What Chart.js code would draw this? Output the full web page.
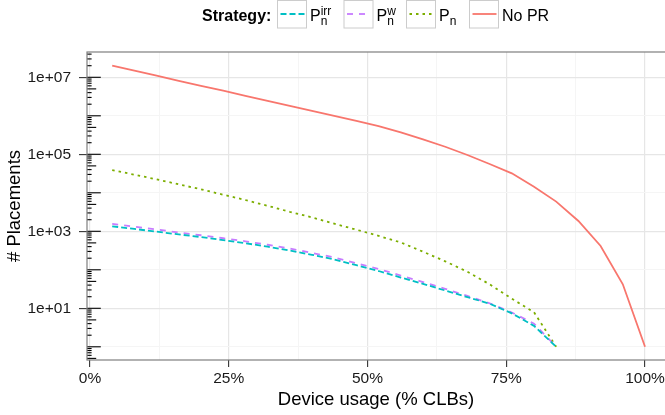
<!DOCTYPE html>
<html>
<head>
<meta charset="utf-8">
<script src="https://cdn.jsdelivr.net/npm/chart.js@4/dist/chart.umd.min.js"></script>
<style>
  html, body { margin: 0; padding: 0; background: #fff; }
</style>
</head>
<body>
<canvas id="chart" width="665" height="415"></canvas>
<script>
// device usage (% CLBs), one point every 4 %
const usage = [4, 8, 12, 16, 20, 24, 28, 32, 36, 40, 44, 48, 52, 56, 60, 64, 68, 72, 76, 80, 84, 88, 92, 96, 100];

// # placements per strategy
const noPR = [2.0e7, 1.48e7, 1.1e7, 8.1e6, 6.0e6, 4.5e6, 3.3e6, 2.45e6, 1.8e6, 1.35e6, 1.0e6, 7.4e5, 5.4e5,
  3.7e5, 2.45e5, 1.57e5, 9.6e4, 5.6e4, 3.2e4, 1.44e4, 5.9e3, 1.85e3, 416, 42, 1];
const pN = [3.9e4, 2.95e4, 2.24e4, 1.66e4, 1.23e4, 8.9e3, 6.5e3, 4.6e3, 3.2e3, 2.3e3, 1.58e3, 1.1e3, 760,
  513, 295, 166, 89, 42, 17.8, 7.9, 1];
const pNirr = [1350, 1150, 980, 830, 710, 590, 490, 400, 316, 245, 186, 132, 93, 63, 43, 29, 19.5, 13.2, 7.4, 3.5, 1];
const pNw = [1550, 1320, 1120, 930, 790, 660, 550, 447, 355, 275, 209, 148, 105, 71, 48, 32, 21, 13.5, 7.8, 4.0, 1];

// axis breaks
const xTickValues = [0, 25, 50, 75, 100];
const xTickLabels = ['0%', '25%', '50%', '75%', '100%'];
const xMinorValues = [12.5, 37.5, 62.5, 87.5];
const yTickValues = [1e1, 1e3, 1e5, 1e7];
const yTickLabels = ['1e+01', '1e+03', '1e+05', '1e+07'];
const yMinorValues = [1e0, 1e2, 1e4, 1e6];

const FONT = '"Liberation Sans", Arial, Helvetica, sans-serif';

function pts(vals) {
  return vals.map((v, i) => ({ x: usage[i], y: v }));
}

const series = [
  { sub: 'n', sup: 'irr', data: pNirr, color: '#00BFC4', dash: [6, 3] },
  { sub: 'n', sup: 'w', data: pNw, color: '#C77CFF', dash: [6, 6] },
  { sub: 'n', sup: '', data: pN, color: '#7CAE00', dash: [2.5, 4] },
  { text: 'No PR', data: noPR, color: '#F8766D', dash: [] }
];

// ggplot-like annotation_logticks on the left side of the panel
const logTicks = {
  id: 'logTicks',
  afterDatasetsDraw(chart) {
    const { ctx, chartArea: a } = chart;
    const y = chart.scales.y;
    ctx.save();
    ctx.beginPath();
    ctx.rect(a.left, a.top, a.right - a.left, a.bottom - a.top);
    ctx.clip();
    ctx.strokeStyle = '#000';
    ctx.lineWidth = 1.1;
    for (let e = -1; e <= 8; e++) {
      for (let m = 1; m <= 9; m++) {
        const py = y.getPixelForValue(m * Math.pow(10, e));
        if (py < a.top || py > a.bottom) continue;
        const len = m === 1 ? 13.8 : (m === 5 ? 9.2 : 4.6);
        ctx.beginPath();
        ctx.moveTo(a.left, py);
        ctx.lineTo(a.left + len, py);
        ctx.stroke();
      }
    }
    ctx.restore();
  }
};

// panel border + legend on top
const frameAndLegend = {
  id: 'frameAndLegend',
  afterDraw(chart) {
    const { ctx, chartArea: a } = chart;
    ctx.save();
    ctx.strokeStyle = '#7f7f7f';
    ctx.lineWidth = 1.2;
    ctx.strokeRect(a.left, a.top, a.right - a.left + 2, a.bottom - a.top);

    ctx.fillStyle = '#000';
    ctx.textBaseline = 'alphabetic';
    ctx.textAlign = 'left';
    ctx.font = 'bold 16px ' + FONT;
    ctx.fillText('Strategy:', 202, 21);

    const boxX = [277.5, 344, 406.5, 469.5];
    series.forEach((s, i) => {
      const bx = boxX[i];
      ctx.strokeStyle = '#cccccc';
      ctx.lineWidth = 1;
      ctx.setLineDash([]);
      ctx.strokeRect(bx, 0.5, 29, 27.5);
      ctx.strokeStyle = s.color;
      ctx.lineWidth = 1.8;
      ctx.setLineDash(s.dash);
      ctx.beginPath();
      ctx.moveTo(bx + 3, 14);
      ctx.lineTo(bx + 27, 14);
      ctx.stroke();
      ctx.setLineDash([]);

      const tx = bx + 32.5;
      ctx.font = '16px ' + FONT;
      if (s.text) {
        ctx.fillText(s.text, tx, 21);
      } else {
        ctx.fillText('P', tx, 21);
        const px = tx + ctx.measureText('P').width;
        ctx.font = '12px ' + FONT;
        if (s.sup) ctx.fillText(s.sup, px, 14.5);
        ctx.fillText(s.sub, px, 25);
      }
    });
    ctx.restore();
  }
};

const tickFont = { family: FONT, size: 15.5 };
const titleFont = { family: FONT, size: 18.5 };

new Chart(document.getElementById('chart'), {
  type: 'line',
  data: {
    datasets: series.map(s => ({
      label: s.text || ('P' + s.sub + s.sup),
      data: pts(s.data),
      borderColor: s.color,
      borderDash: s.dash,
      borderWidth: 1.8,
      pointRadius: 0,
      tension: 0,
      fill: false
    }))
  },
  options: {
    responsive: false,
    animation: false,
    layout: { padding: { top: 52, left: 0, right: 0, bottom: 0 } },
    plugins: {
      legend: { display: false },
      tooltip: { enabled: false }
    },
    scales: {
      x: {
        type: 'linear',
        min: -0.5405,
        max: 103.6,
        afterBuildTicks: s => {
          s.ticks = xTickValues.concat(xMinorValues).sort((a, b) => a - b).map(v => ({ value: v }));
        },
        afterFit: s => { s.height = 55; s.paddingLeft = 0; s.paddingRight = 0; },
        border: { display: false },
        grid: {
          color: c => xTickValues.includes(c.tick.value) ? '#e6e6e6' : '#f5f5f5',
          lineWidth: c => xTickValues.includes(c.tick.value) ? 1.2 : 1,
          tickColor: c => xTickValues.includes(c.tick.value) ? '#333' : 'rgba(0,0,0,0)',
          tickLength: 7,
          tickWidth: 1.1
        },
        ticks: {
          autoSkip: false,
          maxRotation: 0,
          padding: 2,
          color: '#1a1a1a',
          font: tickFont,
          callback: v => {
            const i = xTickValues.indexOf(v);
            return i >= 0 ? xTickLabels[i] : '';
          }
        },
        title: {
          display: true,
          text: 'Device usage (% CLBs)',
          color: '#000',
          font: titleFont,
          padding: { top: 0, bottom: 4 }
        }
      },
      y: {
        type: 'logarithmic',
        min: 0.454,
        max: 4.54e7,
        afterBuildTicks: s => {
          s.ticks = yMinorValues.concat(yTickValues).sort((a, b) => a - b).map(v => ({ value: v }));
        },
        afterFit: s => { s.width = 87; },
        border: { display: false },
        grid: {
          color: c => yTickValues.includes(c.tick.value) ? '#e6e6e6' : '#f5f5f5',
          lineWidth: c => yTickValues.includes(c.tick.value) ? 1.2 : 1,
          tickColor: c => yTickValues.includes(c.tick.value) ? '#333' : 'rgba(0,0,0,0)',
          tickLength: 8,
          tickWidth: 1.1
        },
        ticks: {
          autoSkip: false,
          padding: 8,
          color: '#1a1a1a',
          font: tickFont,
          callback: v => {
            const i = yTickValues.indexOf(v);
            return i >= 0 ? yTickLabels[i] : '';
          }
        },
        title: {
          display: true,
          text: '# Placements',
          color: '#000',
          font: titleFont,
          padding: { top: 4, bottom: 0 }
        }
      }
    }
  },
  plugins: [logTicks, frameAndLegend]
});
</script>
</body>
</html>
